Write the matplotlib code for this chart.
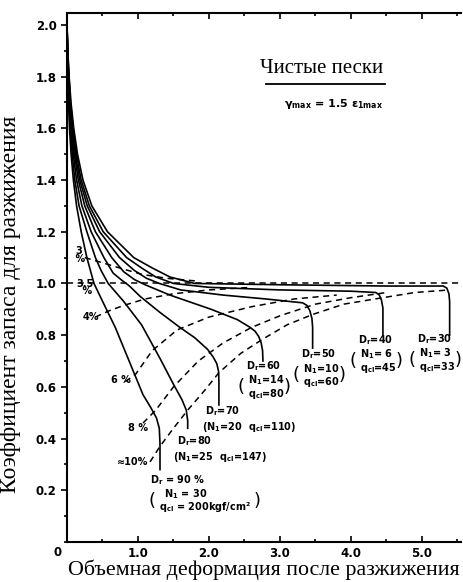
import matplotlib
matplotlib.use("Agg")
import matplotlib.pyplot as plt
from matplotlib.ticker import FixedLocator, MultipleLocator

# values (x = volumetric strain %, y = FS)
dr90_x = [0, 0.005, 0.012, 0.022, 0.035, 0.058, 0.09, 0.135, 0.20, 0.28, 0.33, 0.38, 0.52, 0.68, 0.86,
          1.07, 1.18, 1.26, 1.30, 1.31, 1.31]
dr90_y = [2.0, 1.9, 1.8, 1.7, 1.6, 1.5, 1.4, 1.3, 1.2, 1.1, 1.05, 1.0, 0.92, 0.83, 0.71,
          0.57, 0.52, 0.48, 0.44, 0.38, 0.28]
dr80_x = [0, 0.006, 0.015, 0.028, 0.045, 0.073, 0.11, 0.17, 0.28, 0.40, 0.48, 0.58, 0.80, 1.05, 1.31,
          1.50, 1.62, 1.68, 1.70, 1.70]
dr80_y = [2.0, 1.9, 1.8, 1.7, 1.6, 1.5, 1.4, 1.3, 1.2, 1.1, 1.05, 1.0, 0.93, 0.84, 0.71,
          0.61, 0.55, 0.51, 0.47, 0.44]
dr70_x = [0, 0.007, 0.018, 0.034, 0.055, 0.088, 0.135, 0.21, 0.34, 0.52, 0.65, 0.76, 0.88, 1.03, 1.30,
          1.59, 1.80, 1.98, 2.06, 2.11, 2.135, 2.14, 2.14]
dr70_y = [2.0, 1.9, 1.8, 1.7, 1.6, 1.5, 1.4, 1.3, 1.2, 1.1, 1.04, 1.015, 0.99, 0.95, 0.89,
          0.83, 0.79, 0.745, 0.715, 0.69, 0.66, 0.62, 0.53]
dr60_x = [0, 0.008, 0.021, 0.040, 0.065, 0.103, 0.16, 0.25, 0.40, 0.63, 0.80, 0.95, 1.10, 1.45, 2.03,
          2.40, 2.58, 2.65, 2.70, 2.735, 2.755, 2.76]
dr60_y = [2.0, 1.9, 1.8, 1.7, 1.6, 1.5, 1.4, 1.3, 1.2, 1.1, 1.045, 1.015, 0.995, 0.955, 0.90,
          0.86, 0.83, 0.815, 0.795, 0.77, 0.74, 0.70]
dr50_x = [0, 0.009, 0.024, 0.045, 0.075, 0.118, 0.18, 0.285, 0.46, 0.74, 0.95, 1.12, 1.30, 1.60, 2.20,
          2.80, 3.32, 3.38, 3.42, 3.45, 3.46, 3.46]
dr50_y = [2.0, 1.9, 1.8, 1.7, 1.6, 1.5, 1.4, 1.3, 1.2, 1.1, 1.05, 1.02, 1.0, 0.975, 0.955,
          0.94, 0.925, 0.915, 0.895, 0.865, 0.83, 0.75]
dr40_x = [0, 0.010, 0.027, 0.050, 0.085, 0.132, 0.20, 0.315, 0.51, 0.84, 1.05, 1.25, 1.50, 2.00, 3.00,
          4.00, 4.35, 4.40, 4.43, 4.45, 4.45]
dr40_y = [2.0, 1.9, 1.8, 1.7, 1.6, 1.5, 1.4, 1.3, 1.2, 1.1, 1.06, 1.025, 1.0, 0.985, 0.975,
          0.97, 0.965, 0.955, 0.935, 0.905, 0.80]
dr30_x = [0, 0.011, 0.030, 0.056, 0.095, 0.148, 0.225, 0.35, 0.57, 0.94, 1.20, 1.45, 1.80, 3.00, 4.50,
          5.30, 5.35, 5.38, 5.39, 5.39]
dr30_y = [2.0, 1.9, 1.8, 1.7, 1.6, 1.5, 1.4, 1.3, 1.2, 1.1, 1.06, 1.025, 1.0, 0.995, 0.99,
          0.99, 0.982, 0.96, 0.93, 0.80]

# dashed contours of max shear strain (3 %, 4 %, 6 %, 8 %, 10 %)
g3_x = [0.25, 0.50, 0.80, 1.06, 1.40, 1.80]
g3_y = [1.10, 1.08, 1.055, 1.035, 1.02, 1.01]
g4_x = [0.40, 0.60, 0.80, 1.10, 1.50, 2.00, 2.60]
g4_y = [0.87, 0.895, 0.915, 0.94, 0.96, 0.975, 0.985]
g6_x = [0.82, 0.97, 1.20, 1.55, 2.00, 2.60, 3.20, 3.80]
g6_y = [0.62, 0.65, 0.74, 0.82, 0.87, 0.91, 0.94, 0.955]
g8_x = [1.07, 1.25, 1.50, 1.85, 2.20, 2.60, 3.00, 3.50, 4.00, 4.50]
g8_y = [0.46, 0.51, 0.60, 0.70, 0.77, 0.83, 0.875, 0.92, 0.945, 0.965]
g10_x = [1.17, 1.31, 1.50, 1.70, 1.95, 2.14, 2.45, 2.76, 3.10, 3.46, 3.90, 4.45, 4.90, 5.39]
g10_y = [0.31, 0.37, 0.44, 0.51, 0.59, 0.655, 0.73, 0.785, 0.84, 0.88, 0.92, 0.945, 0.965, 0.975]
fs_line = 1.0

xticks = [1, 2, 3, 4, 5]
xtick_labels = ["1.0", "2.0", "3.0", "4.0", "5.0"]
yticks = [0.2, 0.4, 0.6, 0.8, 1.0, 1.2, 1.4, 1.6, 1.8, 2.0]
ytick_labels = ["0.2", "0.4", "0.6", "0.8", "1.0", "1.2", "1.4", "1.6", "1.8", "2.0"]

fig = plt.figure(figsize=(4.64, 5.82), dpi=100)
ax = fig.add_axes([67 / 464, 40 / 582, 394 / 464, 529 / 582])

for cx, cy in [(dr90_x, dr90_y), (dr80_x, dr80_y), (dr70_x, dr70_y), (dr60_x, dr60_y),
               (dr50_x, dr50_y), (dr40_x, dr40_y), (dr30_x, dr30_y)]:
    ax.plot(cx, cy, color="black", lw=1.2, solid_joinstyle="round")

for gx, gy in [(g3_x, g3_y), (g4_x, g4_y), (g6_x, g6_y), (g8_x, g8_y), (g10_x, g10_y)]:
    ax.plot(gx, gy, color="black", lw=1.1, ls=(0, (4, 3)))
ax.axhline(fs_line, color="black", lw=1.1, ls=(0, (4, 3)))

ax.set_xlim(0, 5.55)
ax.set_ylim(0, 2.046)
ax.xaxis.set_major_locator(FixedLocator(xticks))
ax.set_xticklabels(xtick_labels)
ax.xaxis.set_minor_locator(MultipleLocator(0.5))
ax.yaxis.set_major_locator(FixedLocator(yticks))
ax.set_yticklabels(ytick_labels)
ax.yaxis.set_minor_locator(MultipleLocator(0.1))
ax.tick_params(axis="x", which="both", direction="in", top=True, length=4, width=1.2)
ax.tick_params(axis="y", which="both", direction="out", length=4, width=1.2)
ax.tick_params(which="minor", length=2.5)
for lab in ax.get_xticklabels() + ax.get_yticklabels():
    lab.set_fontweight("bold")
    lab.set_fontsize(8.5)
ax.spines["right"].set_visible(False)
for s in ["left", "bottom", "top"]:
    ax.spines[s].set_linewidth(1.5)
ax.text(-0.13, -0.015, "0", ha="center", va="top", fontsize=8.5, fontweight="bold")

serif = "Liberation Serif"
ax.set_xlabel("Объемная деформация после разжижения", family=serif, fontsize=15.8, labelpad=0)
ax.set_ylabel("Коэффициент запаса для разжижения", family=serif, fontsize=17)
ax.yaxis.set_label_coords(-0.118, 0.45)

# title block
ax.text(3.59, 1.83, "Чистые пески", family=serif, fontsize=15, ha="center", va="center")
ax.plot([2.80, 4.48], [1.77, 1.77], color="black", lw=1.3)
ax.text(3.76, 1.695, r"$\mathbf{\gamma_{max}}$ = 1.5 $\mathbf{\epsilon_{1max}}$",
        fontsize=8, fontweight="bold", ha="center", va="center")

# strain labels
small = dict(fontsize=7, fontweight="bold", ha="center", va="center")
ax.text(0.16, 1.11, "3\n %", linespacing=0.7, **small)
ax.text(0.26, 0.985, "3.5\n %", linespacing=0.7, **small)
ax.text(0.34, 0.87, "4%", **small)
ax.text(0.76, 0.625, "6 %", **small)
ax.text(1.00, 0.44, "8 %", **small)
ax.text(0.93, 0.31, "≈10%", **small)

# density labels
lab = dict(fontsize=7, fontweight="bold", ha="left", va="center")
par = dict(fontsize=13, ha="center", va="center")

ax.text(1.17, 0.238, r"$\mathbf{D_r}$ = 90 %", **lab)
ax.text(1.36, 0.185, r"$\mathbf{N_1}$ = 30", **lab)
ax.text(1.30, 0.135, r"$\mathbf{q_{cl}}$ = 200kgf/cm²", **lab)
ax.text(1.20, 0.16, "(", **par)
ax.text(2.68, 0.16, ")", **par)

ax.text(1.55, 0.39, r"$\mathbf{D_r}$=80", **lab)
ax.text(1.50, 0.33, r"($\mathbf{N_1}$=25  $\mathbf{q_{cl}}$=147)", **lab)

ax.text(1.95, 0.505, r"$\mathbf{D_r}$=70", **lab)
ax.text(1.90, 0.445, r"($\mathbf{N_1}$=20  $\mathbf{q_{cl}}$=110)", **lab)

ax.text(2.52, 0.68, r"$\mathbf{D_r}$=60", **lab)
ax.text(2.55, 0.625, r"$\mathbf{N_1}$=14", **lab)
ax.text(2.55, 0.573, r"$\mathbf{q_{cl}}$=80", **lab)
ax.text(2.45, 0.60, "(", **par)
ax.text(3.10, 0.60, ")", **par)

ax.text(3.30, 0.725, r"$\mathbf{D_r}$=50", **lab)
ax.text(3.33, 0.67, r"$\mathbf{N_1}$=10", **lab)
ax.text(3.33, 0.618, r"$\mathbf{q_{cl}}$=60", **lab)
ax.text(3.23, 0.645, "(", **par)
ax.text(3.88, 0.645, ")", **par)

ax.text(4.10, 0.78, r"$\mathbf{D_r}$=40", **lab)
ax.text(4.13, 0.725, r"$\mathbf{N_1}$= 6", **lab)
ax.text(4.13, 0.673, r"$\mathbf{q_{cl}}$=45", **lab)
ax.text(4.03, 0.70, "(", **par)
ax.text(4.68, 0.70, ")", **par)

ax.text(4.93, 0.785, r"$\mathbf{D_r}$=30", **lab)
ax.text(4.96, 0.73, r"$\mathbf{N_1}$= 3", **lab)
ax.text(4.96, 0.678, r"$\mathbf{q_{cl}}$=33", **lab)
ax.text(4.86, 0.705, "(", **par)
ax.text(5.51, 0.705, ")", clip_on=False, **par)

fig.savefig("out.png", dpi=100)
